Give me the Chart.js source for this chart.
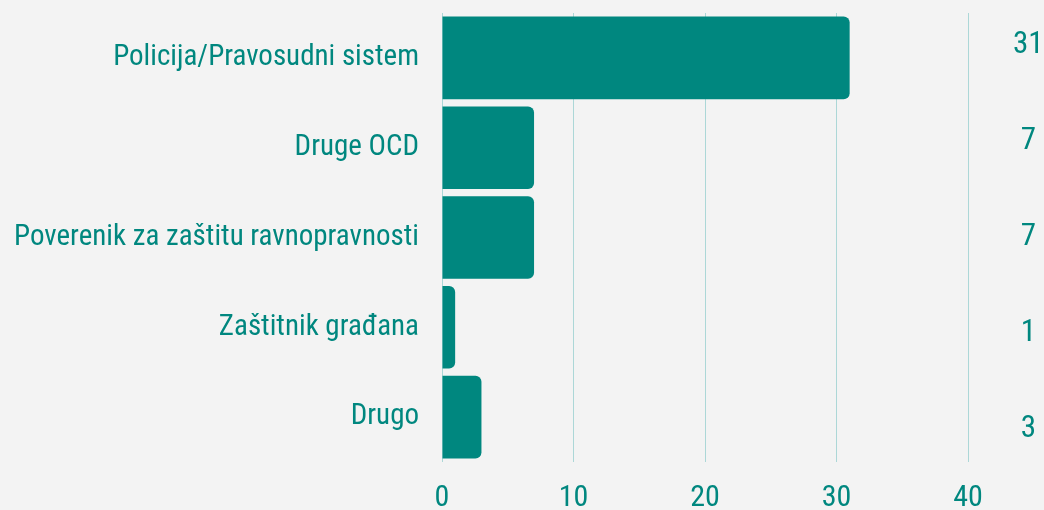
<!DOCTYPE html>
<html>
<head>
<meta charset="utf-8">
<script src="https://cdn.jsdelivr.net/npm/chart.js@4"></script>
<style>
  html, body { margin: 0; padding: 0; background: #f3f3f3; }
  #wrap { width: 1044px; height: 510px; }
</style>
</head>
<body>
<div id="wrap"><canvas id="barChart"></canvas></div>
<script>
// Podaci
const categories = ['Policija/Pravosudni sistem', 'Druge OCD', 'Poverenik za zaštitu ravnopravnosti', 'Zaštitnik građana', 'Drugo'];
const counts = [31, 7, 7, 1, 3];
const xTicks = [0, 10, 20, 30, 40];

const teal = '#00877f';
const gridColor = '#acd7d7';
const fontFamily = '"Roboto Condensed", "DejaVu Sans Condensed", sans-serif';

// bez dodatnog razmaka iznad/ispod vertikalnih osa
const noPad = s => { s.paddingTop = 0; s.paddingBottom = 0; };

const ctx = document.getElementById('barChart').getContext('2d');
const chart = new Chart(ctx, {
    type: 'bar',
    data: {
        labels: categories,
        datasets: [{
            data: counts,
            backgroundColor: teal,
            borderRadius: 6,
            barPercentage: 0.92,
            categoryPercentage: 1
        }]
    },
    options: {
        indexAxis: 'y',
        responsive: true,
        maintainAspectRatio: false,
        animation: false,
        layout: { padding: { top: 13, right: 0, left: 0, bottom: 0 } },
        plugins: {
            legend: { display: false },
            tooltip: { enabled: false }
        },
        scales: {
            x: {
                min: 0,
                max: 40,
                afterBuildTicks: s => { s.ticks = xTicks.map(v => ({ value: v })); },
                grid: { color: gridColor, lineWidth: 1, drawTicks: false },
                border: { display: false },
                ticks: { color: teal, font: { family: fontFamily, size: 30 }, padding: 18 },
                afterFit: s => { s.height = 48; }
            },
            y: {
                grid: { display: false, drawTicks: false },
                border: { display: false },
                ticks: { color: teal, font: { family: fontFamily, size: 29 }, padding: 23 },
                afterFit: s => { s.width = 442; noPad(s); }
            },
            // kolona sa vrednostima desno
            values: {
                type: 'linear',
                axis: 'y',
                position: 'right',
                reverse: true,
                offset: false,
                bounds: 'data',
                min: -0.336,
                max: 4.336,
                afterBuildTicks: s => { s.ticks = counts.map((c, i) => ({ value: i })); },
                grid: { display: false, drawTicks: false },
                border: { display: false },
                ticks: {
                    color: teal,
                    font: { family: fontFamily, size: 31 },
                    crossAlign: 'center',
                    padding: 45,
                    callback: (v) => String(counts[v])
                },
                afterFit: s => { s.width = 76; noPad(s); }
            }
        }
    }
});
</script>
</body>
</html>
